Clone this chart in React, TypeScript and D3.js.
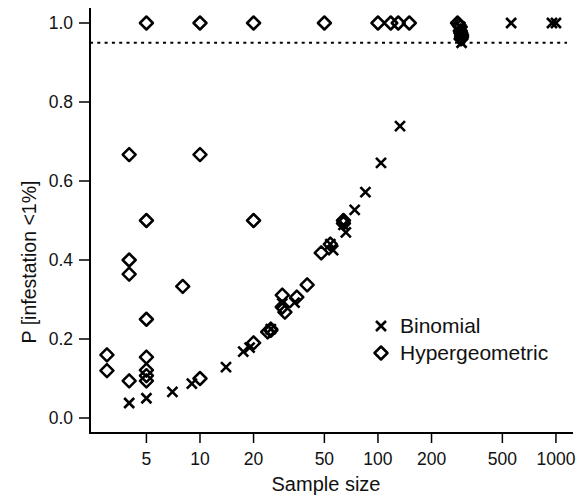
import React from "react";
import * as d3 from "d3";

const binomN = [4, 5, 7, 9, 14, 17.5, 19, 25, 29, 34, 54, 56, 64, 66, 74, 85, 104, 133, 290, 295, 295, 560, 950, 1000];
const binomP = [0.038, 0.05, 0.066, 0.087, 0.129, 0.168, 0.178, 0.225, 0.29, 0.292, 0.44, 0.425, 0.489, 0.47, 0.527, 0.572, 0.646, 0.739, 0.99, 0.97, 0.95, 1.0, 1.0, 1.0];

const hyperN = [3, 3, 4, 4, 4, 4, 5, 5, 5, 5, 5, 5, 5, 8, 10, 10, 10, 20, 20, 20, 24, 25, 25, 29, 29, 30, 35, 40, 48, 50, 54, 64, 64, 100, 118, 130, 150, 280, 285, 290, 290, 292, 295, 295, 293];
const hyperP = [0.16, 0.12, 0.667, 0.4, 0.364, 0.094, 1.0, 0.5, 0.25, 0.154, 0.121, 0.107, 0.094, 0.333, 1.0, 0.667, 0.1, 1.0, 0.5, 0.19, 0.218, 0.225, 0.222, 0.311, 0.281, 0.268, 0.306, 0.337, 0.418, 1.0, 0.44, 0.5, 0.493, 1.0, 1.0, 1.0, 1.0, 1.0, 0.995, 0.99, 0.98, 0.975, 0.97, 0.965, 0.96];

const xTicks = [5, 10, 20, 50, 100, 200, 500, 1000];
const yTicks = [0, 0.2, 0.4, 0.6, 0.8, 1.0];
const threshold = 0.95;
const legendLabels = ["Binomial", "Hypergeometric"];

const FONT = '"Liberation Sans", Arial, sans-serif';

const xScale = d3.scaleLog().domain([2.41, 1247]).range([90, 573]);
const yScale = d3.scaleLinear().domain([0, 1]).range([418, 23]);

const X0 = 90;
const YB = 433;

function Cross({ x, y }: { x: number; y: number }) {
  const s = 5;
  return (
    <path
      d={`M${x - s},${y - s}L${x + s},${y + s}M${x - s},${y + s}L${x + s},${y - s}`}
      stroke="#000"
      strokeWidth={2.6}
      fill="none"
    />
  );
}

function Diamond({ x, y }: { x: number; y: number }) {
  const s = 6.5;
  return (
    <path
      d={`M${x},${y - s}L${x + s},${y}L${x},${y + s}L${x - s},${y}Z`}
      stroke="#000"
      strokeWidth={2.5}
      strokeLinejoin="round"
      fill="none"
    />
  );
}

export default function App() {
  return (
    <svg
      width={586}
      height={496}
      style={{ position: "absolute", left: 0, top: 0, background: "#fff" }}
      fontFamily={FONT}
    >
      <defs>
        <clipPath id="legclip">
          <rect x={0} y={0} width={552} height={496} />
        </clipPath>
      </defs>
      <rect x={0} y={0} width={586} height={496} fill="#fff" />

      {/* threshold line */}
      <line
        x1={X0}
        x2={567}
        y1={yScale(threshold)}
        y2={yScale(threshold)}
        stroke="#000"
        strokeWidth={2}
        strokeDasharray="3,4.3"
      />

      {/* axes */}
      <path d={`M${X0},8L${X0},${YB}L573,${YB}`} stroke="#000" strokeWidth={2} fill="none" />

      {yTicks.map((t) => (
        <g key={t}>
          <line x1={X0 - 11} x2={X0} y1={yScale(t)} y2={yScale(t)} stroke="#000" strokeWidth={1.5} />
          <text x={X0 - 17} y={yScale(t)} dy="0.35em" textAnchor="end" fontSize={17.5} fill="#111">
            {t.toFixed(1)}
          </text>
        </g>
      ))}

      {xTicks.map((t) => (
        <g key={t}>
          <line x1={xScale(t)} x2={xScale(t)} y1={YB} y2={YB + 10} stroke="#000" strokeWidth={1.5} />
          <text x={xScale(t)} y={465} textAnchor="middle" fontSize={17.5} fill="#111">
            {t}
          </text>
        </g>
      ))}

      <text x={326} y={491} textAnchor="middle" fontSize={20} fill="#111">
        Sample size
      </text>
      <text
        transform={`translate(36,262) rotate(-90)`}
        textAnchor="middle"
        fontSize={19.5}
        fill="#111"
      >
        P [infestation &lt;1%]
      </text>

      {/* data */}
      {hyperN.map((n, i) => (
        <Diamond key={"h" + i} x={xScale(n)} y={yScale(hyperP[i])} />
      ))}
      {binomN.map((n, i) => (
        <Cross key={"b" + i} x={xScale(n)} y={yScale(binomP[i])} />
      ))}

      {/* legend */}
      <Cross x={381} y={326} />
      <text x={400} y={333} fontSize={21} fill="#111">
        {legendLabels[0]}
      </text>
      <Diamond x={381} y={353} />
      <g clipPath="url(#legclip)">
        <text x={400} y={360} fontSize={21} fill="#111">
          {legendLabels[1]}
        </text>
      </g>
    </svg>
  );
}
